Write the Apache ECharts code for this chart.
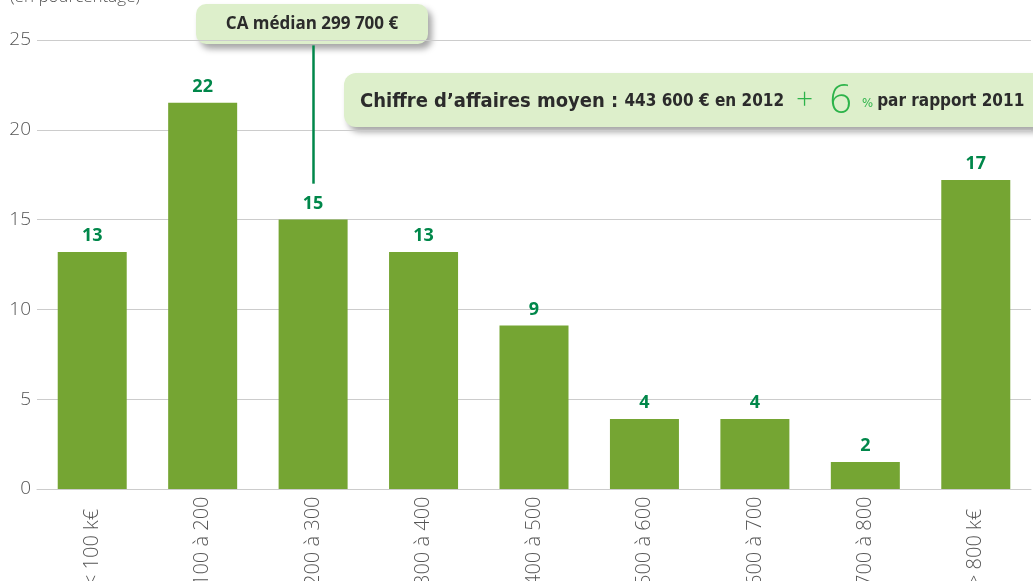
<!DOCTYPE html>
<html>
<head>
<meta charset="utf-8">
<script src="https://cdn.jsdelivr.net/npm/echarts@6/dist/echarts.min.js"></script>
<style>
  html, body { margin: 0; padding: 0; background: #fff; }
  #chart { width: 1033px; height: 581px; }
</style>
</head>
<body>
<div id="chart"></div>
<script>
// chiffre d'affaires par tranche (en pourcentage)
const categories = ["< 100 k€", "100 à 200", "200 à 300", "300 à 400", "400 à 500",
  "500 à 600", "600 à 700", "700 à 800", "> 800 k€"];
const shares = [13.2, 21.5, 15.0, 13.2, 9.1, 3.9, 3.9, 1.5, 17.2];
const shareLabels = ["13", "22", "15", "13", "9", "4", "4", "2", "17"];
const yTicks = [0, 5, 10, 15, 20, 25];
const medianCategory = "200 à 300";
const medianLine = [24.7, 17.0];

const chart = echarts.init(document.getElementById("chart"));
const font = "'Open Sans', 'Noto Sans', sans-serif";
const condensed = "'DejaVu Sans Condensed', 'Liberation Sans Narrow', 'Noto Sans', sans-serif";

chart.setOption({
  animation: false,
  grid: { left: 37, right: 2, top: 40, bottom: 92, containLabel: false, outerBoundsMode: "none" },
  xAxis: {
    type: "category",
    data: categories,
    axisLine: { lineStyle: { color: "#cccccc", width: 1 } },
    axisTick: { show: false },
    axisLabel: {
      rotate: 90,
      margin: 97,
      align: "left",
      color: "#555555",
      fontFamily: font,
      fontWeight: 300,
      fontSize: 20
    }
  },
  yAxis: {
    type: "value",
    min: yTicks[0],
    max: yTicks[yTicks.length - 1],
    interval: 5,
    axisLine: { show: false },
    axisTick: { show: false },
    splitLine: { lineStyle: { color: "#cccccc", width: 1 } },
    axisLabel: {
      margin: 6,
      color: "#555555",
      fontFamily: font,
      fontWeight: 300,
      fontSize: 19,
      align: "right"
    }
  },
  series: [{
    type: "bar",
    data: shares,
    barWidth: 69,
    itemStyle: { color: "#75a533" },
    label: {
      show: true,
      position: "top",
      distance: 7,
      color: "#00874a",
      fontFamily: font,
      fontWeight: "bold",
      fontSize: 18,
      formatter: p => shareLabels[p.dataIndex]
    },
    markLine: {
      symbol: "none",
      silent: true,
      label: { show: false },
      lineStyle: { color: "#00874a", width: 2.5, type: "solid" },
      data: [[
        { coord: [medianCategory, medianLine[0]] },
        { coord: [medianCategory, medianLine[1]] }
      ]]
    }
  }],
  graphic: [
    {
      type: "text",
      left: 10,
      top: -11,
      style: {
        text: "(en pourcentage)",
        fill: "#555555",
        font: "300 17px " + font
      }
    },
    {
      type: "group",
      left: 196,
      top: 4,
      children: [
        {
          type: "rect",
          shape: { x: 0, y: 0, width: 232, height: 40, r: 10 },
          style: {
            fill: "#ddefcb",
            shadowColor: "rgba(0,0,0,0.35)",
            shadowBlur: 6,
            shadowOffsetX: 4,
            shadowOffsetY: 5
          }
        },
        {
          type: "text",
          x: 116,
          y: 20,
          style: {
            text: "CA médian 299 700 €",
            fill: "#2b2b2b",
            font: "bold 17px " + font,
            align: "center",
            verticalAlign: "middle"
          }
        }
      ]
    },
    {
      type: "group",
      left: 344,
      top: 73,
      children: [
        {
          type: "rect",
          shape: { x: 0, y: 0, width: 720, height: 54, r: 12 },
          style: {
            fill: "#ddefcb",
            shadowColor: "rgba(0,0,0,0.35)",
            shadowBlur: 6,
            shadowOffsetX: 4,
            shadowOffsetY: 5
          }
        },
        {
          type: "text",
          x: 16,
          y: 29,
          style: {
            text: "{a|Chiffre d’affaires moyen : }{b|443 600 € en 2012}{c|+}{e|6}{d|%}{b|par rapport 2011}",
            verticalAlign: "middle",
            rich: {
              a: { fontFamily: condensed, fontWeight: "bold", fontSize: 20, fill: "#2b2b2b" },
              b: { fontFamily: condensed, fontWeight: "bold", fontSize: 17, fill: "#2b2b2b" },
              c: { fontFamily: font, fontWeight: 300, fontSize: 30, fill: "#2db34a", padding: [0, 16, 4, 12] },
              e: { fontFamily: font, fontWeight: 300, fontSize: 40, fill: "#2db34a", padding: [0, 10, 0, 0] },
              d: { fontFamily: condensed, fontSize: 13, fill: "#2db34a", padding: [4, 4, 0, 0] }
            }
          }
        }
      ]
    }
  ]
});
</script>
</body>
</html>
